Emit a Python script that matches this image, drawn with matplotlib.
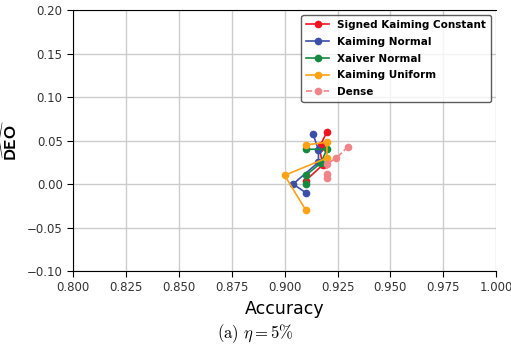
import matplotlib
matplotlib.use("Agg")
import matplotlib.pyplot as plt

# data (accuracy, DEO) per init scheme
skc_acc = [0.910, 0.918, 0.9165, 0.917, 0.920]
skc_deo = [0.004, 0.022, 0.041, 0.045, 0.060]

kn_acc = [0.910, 0.904, 0.916, 0.916, 0.9135]
kn_deo = [-0.010, 0.000, 0.025, 0.039, 0.057]

xn_acc = [0.910, 0.910, 0.917, 0.920, 0.910]
xn_deo = [0.000, 0.010, 0.024, 0.040, 0.040]

ku_acc = [0.910, 0.900, 0.920, 0.920, 0.910]
ku_deo = [-0.030, 0.010, 0.030, 0.048, 0.045]

dense_acc = [0.920, 0.920, 0.920, 0.9245, 0.930]
dense_deo = [0.007, 0.011, 0.023, 0.030, 0.043]

fig = plt.figure(figsize=(5.11, 3.47), dpi=100)
ax = fig.add_axes([0.143, 0.219, 0.828, 0.752])

ax.plot(skc_acc, skc_deo, "-o", color="#f0141e", ms=4.5, lw=1.2, label="Signed Kaiming Constant")
ax.plot(kn_acc, kn_deo, "-o", color="#3b4fa8", ms=4.5, lw=1.2, label="Kaiming Normal")
ax.plot(xn_acc, xn_deo, "-o", color="#138a3e", ms=4.5, lw=1.2, label="Xaiver Normal")
ax.plot(ku_acc, ku_deo, "-o", color="#ffa114", ms=4.5, lw=1.2, label="Kaiming Uniform")
ax.plot(dense_acc, dense_deo, "--o", color="#f08488", ms=4.5, lw=1.2, label="Dense")

ax.set_xlim(0.8, 1.0)
ax.set_ylim(-0.10, 0.20)
ax.set_xticks([0.8, 0.825, 0.85, 0.875, 0.9, 0.925, 0.95, 0.975, 1.0])
ax.set_yticks([-0.10, -0.05, 0.0, 0.05, 0.10, 0.15, 0.20])
ax.set_xticklabels(["0.800", "0.825", "0.850", "0.875", "0.900", "0.925", "0.950", "0.975", "1.000"])
ax.grid(True, color="#cccccc", lw=1.0)
ax.set_axisbelow(True)
ax.spines["right"].set_visible(False)
ax.tick_params(labelsize=8.5, labelcolor="#333333", length=4, width=0.8)

ax.set_xlabel("Accuracy", fontsize=12.5)
ax.set_ylabel(r"$\widehat{\mathsf{\mathbf{DEO}}}$", fontsize=12, labelpad=4,
              math_fontfamily="stixsans")

leg = ax.legend(loc="upper right", prop={"weight": "bold", "size": 7.5},
                frameon=True, edgecolor="#333333", fancybox=True,
                handlelength=2.2, borderpad=0.45, labelspacing=0.65)
leg.get_frame().set_linewidth(1.0)

fig.text(0.5, 0.025, r"$\mathrm{(a)}\ \eta = 5\%$", ha="center", fontsize=12,
         math_fontfamily="cm")

fig.savefig("out.png", dpi=100)
